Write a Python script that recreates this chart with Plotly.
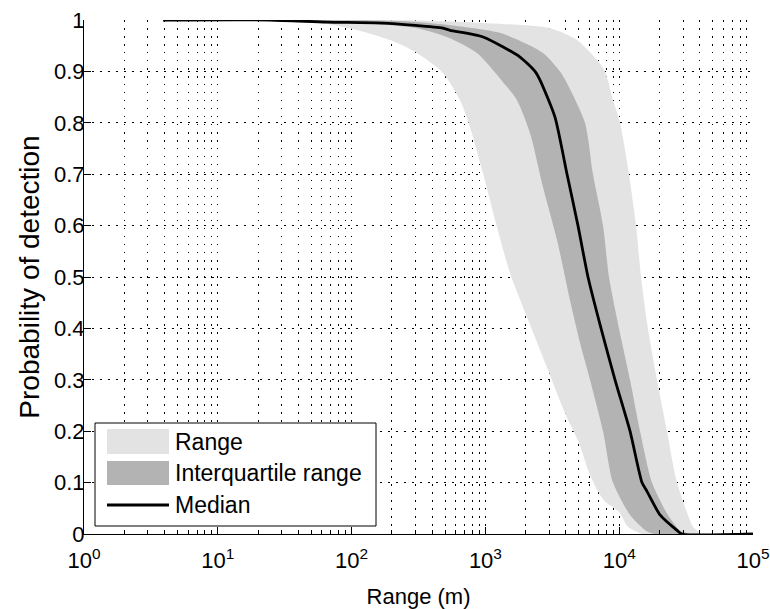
import plotly.graph_objects as go

# Detection probability vs. range (m): envelope, interquartile band and median
# Each curve is listed from P = 1 down to P = 0.

range_min_p = [1.0, 0.998, 0.994, 0.984, 0.961, 0.936, 0.897, 0.844, 0.792, 0.702,
               0.597, 0.508, 0.422, 0.358, 0.319, 0.235, 0.177, 0.125, 0.086, 0.063,
               0.043, 0.014, 0.0]
range_min_m = [3.9, 29, 58, 97, 194, 308, 482, 646, 767, 960,
               1221, 1527, 2046, 2560, 2937, 3940, 5010, 5845, 6825, 7835,
               9970, 11640, 15000]

range_max_p = [1.0, 0.999, 0.994, 0.984, 0.961, 0.922, 0.9, 0.844, 0.8, 0.7,
               0.6, 0.5, 0.4, 0.3, 0.2, 0.1, 0.014, 0.0]
range_max_m = [3.9, 325, 960, 3040, 4840, 6825, 7835, 8990, 10140, 11830,
               13360, 14560, 16410, 19180, 22760, 27040, 35630, 40180]

q1_p = [1.0, 0.995, 0.984, 0.967, 0.936, 0.870, 0.844, 0.780, 0.675, 0.572,
        0.455, 0.372, 0.30, 0.20, 0.10, 0.037, 0.005, 0.0]
q1_m = [3.9, 97, 308, 516, 865, 1449, 1722, 2155, 2693, 3430,
        4290, 5095, 6050, 7570, 8990, 12050, 16130, 18530]

q3_p = [1.0, 0.998, 0.99, 0.975, 0.936, 0.9, 0.877, 0.8, 0.7, 0.6,
        0.5, 0.4, 0.3, 0.2, 0.1, 0.04, 0.007, 0.0]
q3_m = [3.9, 230, 544, 1285, 2693, 3610, 4075, 5550, 6370, 7570,
        8390, 9970, 12050, 14320, 17580, 22760, 28460, 33800]

median_p = [1.0, 1.0, 0.996, 0.994, 0.984, 0.98, 0.967, 0.928, 0.9, 0.883,
            0.811, 0.7, 0.6, 0.5, 0.4, 0.3, 0.2, 0.1, 0.083, 0.037,
            0.007, 0.0, 0.0]
median_m = [3.9, 24.5, 65, 172, 482, 544, 960, 1815, 2349, 2560,
            3311, 4075, 4920, 5845, 7315, 9305, 12050, 14800, 16130, 20200,
            27040, 29460, 100000]

x_tick_vals = [1, 10, 100, 1000, 10000, 100000]
x_tick_text = ["10<sup>0</sup>", "10<sup>1</sup>", "10<sup>2</sup>",
               "10<sup>3</sup>", "10<sup>4</sup>", "10<sup>5</sup>"]
y_tick_vals = [0, 0.1, 0.2, 0.3, 0.4, 0.5, 0.6, 0.7, 0.8, 0.9, 1]
y_tick_text = ["0", "0.1", "0.2", "0.3", "0.4", "0.5", "0.6", "0.7", "0.8", "0.9", "1"]

legend_labels = ["Range", "Interquartile range", "Median"]

LIGHT = "#e3e3e3"
DARK = "#b3b3b3"
FONT = "Liberation Sans, Arial, sans-serif"
GRID_DASH = "1.5px,6.5px"

minor_vals = [k * 10 ** d for d in range(5) for k in range(2, 10)]

fig = go.Figure()

# full range envelope: upper edge out, lower edge back
fig.add_trace(go.Scatter(
    x=range_max_m + range_min_m[::-1],
    y=range_max_p + range_min_p[::-1],
    fill="toself", fillcolor=LIGHT, mode="lines",
    line=dict(width=0, shape="spline", smoothing=0.7),
    name=legend_labels[0], hoverinfo="skip"))

# interquartile band
fig.add_trace(go.Scatter(
    x=q3_m + q1_m[::-1],
    y=q3_p + q1_p[::-1],
    fill="toself", fillcolor=DARK, mode="lines",
    line=dict(width=0, shape="spline", smoothing=0.7),
    name=legend_labels[1], hoverinfo="skip"))

# median curve
fig.add_trace(go.Scatter(
    x=median_m, y=median_p, mode="lines",
    line=dict(color="black", width=2.8, shape="spline", smoothing=0.6),
    name=legend_labels[2]))

# plot-area geometry in pixels
L, R, T, B = 84, 753, 20, 534
W, H = R - L, B - T


def px_x(px):
    return (px - L) / W


def px_y(py):
    return (B - py) / H


shapes = []
annotations = []

# legend frame
shapes.append(dict(type="rect", xref="paper", yref="paper",
                   x0=px_x(95), x1=px_x(376), y0=px_y(526), y1=px_y(423),
                   line=dict(color="black", width=1), fillcolor="white"))
# legend swatches
shapes.append(dict(type="rect", xref="paper", yref="paper",
                   x0=px_x(107), x1=px_x(169), y0=px_y(454), y1=px_y(429),
                   line=dict(width=0), fillcolor=LIGHT))
shapes.append(dict(type="rect", xref="paper", yref="paper",
                   x0=px_x(107), x1=px_x(169), y0=px_y(485), y1=px_y(461),
                   line=dict(width=0), fillcolor=DARK))
shapes.append(dict(type="line", xref="paper", yref="paper",
                   x0=px_x(107), x1=px_x(169), y0=px_y(505), y1=px_y(505),
                   line=dict(color="black", width=2.8)))
for label, cy in zip(legend_labels, [442, 473, 505]):
    annotations.append(dict(text=label, xref="paper", yref="paper",
                            x=px_x(173), y=px_y(cy), xanchor="left", yanchor="middle",
                            showarrow=False, font=dict(size=23, family=FONT, color="black")))

fig.update_layout(
    width=770, height=609,
    margin=dict(l=L, r=770 - R, t=T, b=609 - B),
    paper_bgcolor="white", plot_bgcolor="white",
    font=dict(family=FONT, size=22, color="black"),
    showlegend=False,
    shapes=shapes, annotations=annotations,
)

fig.update_xaxes(
    type="log", range=[0, 5],
    tickmode="array", tickvals=x_tick_vals, ticktext=x_tick_text,
    ticks="inside", ticklen=7, tickcolor="black", tickwidth=1,
    ticklabelstandoff=7,
    showline=True, linecolor="black", linewidth=1, mirror=False,
    showgrid=True, gridcolor="black", gridwidth=1, griddash=GRID_DASH,
    minor=dict(tickmode="array", tickvals=minor_vals, ticks="inside", ticklen=4,
               tickcolor="black", showgrid=True, gridcolor="black", gridwidth=1,
               griddash=GRID_DASH),
    title=dict(text="Range (m)", font=dict(size=22), standoff=18),
    automargin=False, zeroline=False,
)

fig.update_yaxes(
    range=[0, 1],
    tickmode="array", tickvals=y_tick_vals, ticktext=y_tick_text,
    ticks="inside", ticklen=7, tickcolor="black", tickwidth=1,
    ticklabelstandoff=-6,
    showline=True, linecolor="black", linewidth=1, mirror=False,
    showgrid=True, gridcolor="black", gridwidth=1, griddash=GRID_DASH,
    title=dict(text="Probability of detection", font=dict(size=28), standoff=6),
    automargin=False, zeroline=False,
)

fig.write_html("out.html")
